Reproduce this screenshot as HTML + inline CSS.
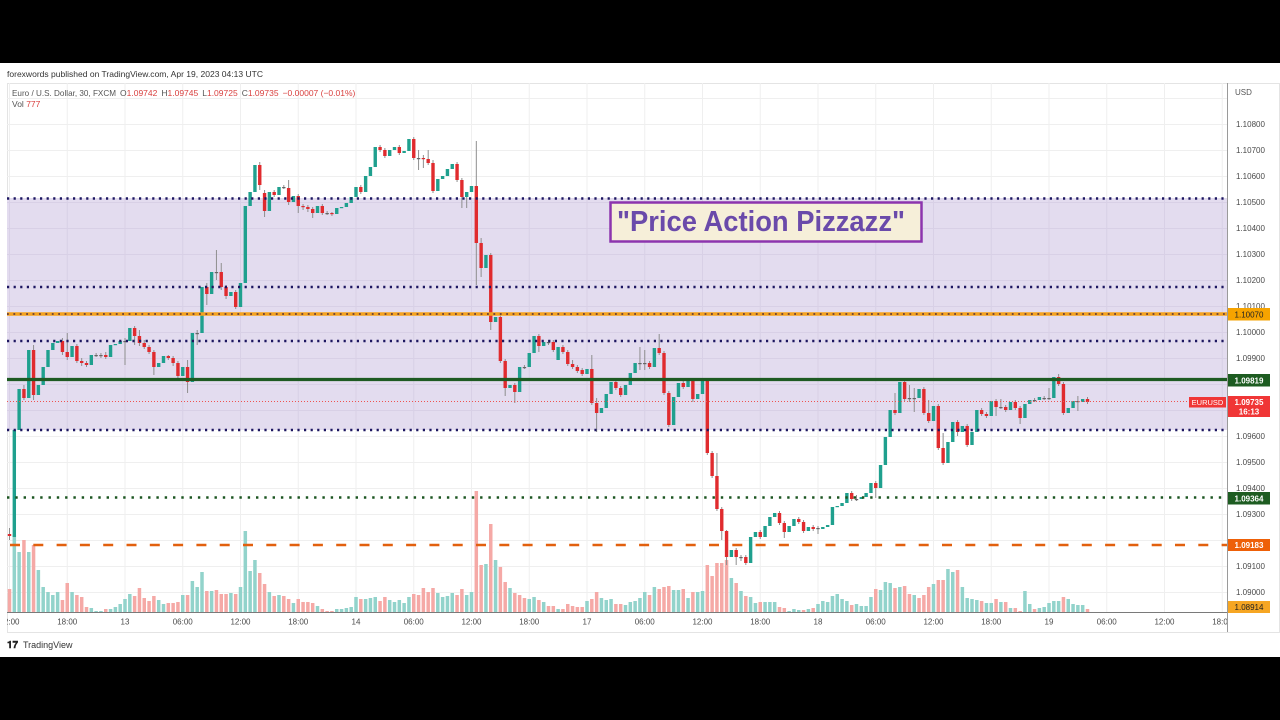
<!DOCTYPE html>
<html><head><meta charset="utf-8"><style>
html,body{margin:0;padding:0;background:#000;}
svg{display:block;}
text{font-family:"Liberation Sans",sans-serif;}
</style></head><body>
<svg id="s" width="1280" height="720" viewBox="0 0 1280 720" xmlns="http://www.w3.org/2000/svg">
<defs>
<clipPath id="plot"><rect x="7" y="83" width="1220" height="529"/></clipPath>
<clipPath id="taxis"><rect x="7" y="612" width="1220" height="20"/></clipPath>
</defs>
<rect x="0" y="0" width="1280" height="720" fill="#000"/>
<rect x="0" y="63" width="1280" height="594" fill="#fff"/>
<text x="7" y="77" font-size="8.5" fill="#333" textLength="256" lengthAdjust="spacingAndGlyphs">forexwords published on TradingView.com, Apr 19, 2023 04:13 UTC</text>
<rect x="7.5" y="83.5" width="1272" height="549" fill="#fff" stroke="#e4e4e4"/>
<g id="grid" stroke="#efefef" stroke-width="1"></g>
<rect x="7" y="198" width="1220" height="232" fill="#e3dcef"/>
<g id="grid2" stroke="#d8d0e6" stroke-width="1"></g>
<g id="vol" clip-path="url(#plot)"></g>
<g id="cdl" clip-path="url(#plot)"></g>
<g clip-path="url(#plot)">
<line x1="7" y1="401.5" x2="1227" y2="401.5" stroke="#ef5350" stroke-width="1" stroke-dasharray="1 2"/>
<line x1="7" y1="198.5" x2="1227" y2="198.5" stroke="#1c1660" stroke-width="2.4" stroke-dasharray="2.2 4.4"/>
<line x1="7" y1="287" x2="1227" y2="287" stroke="#1c1660" stroke-width="2.4" stroke-dasharray="2.2 4.4"/>
<line x1="7" y1="341" x2="1227" y2="341" stroke="#1c1660" stroke-width="2.4" stroke-dasharray="2.2 4.4"/>
<line x1="7" y1="430" x2="1227" y2="430" stroke="#1c1660" stroke-width="2.4" stroke-dasharray="2.2 4.4"/>
<line x1="7" y1="314" x2="1227" y2="314" stroke="#f5a21e" stroke-width="3.5"/>
<line x1="7" y1="314" x2="1227" y2="314" stroke="#4a2a40" stroke-width="1.6" stroke-dasharray="1.8 4.6"/>
<line x1="7" y1="379.5" x2="1227" y2="379.5" stroke="#1e5a22" stroke-width="3.2"/>
<line x1="7" y1="497.5" x2="1227" y2="497.5" stroke="#1b5520" stroke-width="2.6" stroke-dasharray="2.4 5.9"/>
<line x1="10" y1="545" x2="1227" y2="545" stroke="#e2600e" stroke-width="2.5" stroke-dasharray="10 13.3"/>
</g>
<!-- title box -->
<rect x="610.5" y="202.5" width="311" height="39" fill="#f6efd9" stroke="#8c34ae" stroke-width="2.5"/>
<text x="617" y="231" font-size="29" font-weight="bold" fill="#6a4aaa" textLength="288" lengthAdjust="spacingAndGlyphs">"Price Action Pizzazz"</text>
<!-- legend -->
<text y="96" font-size="8.5" fill="#555"><tspan x="12" textLength="104" lengthAdjust="spacingAndGlyphs">Euro / U.S. Dollar, 30, FXCM</tspan><tspan x="120">O</tspan><tspan fill="#d9403f">1.09742</tspan><tspan dx="4">H</tspan><tspan fill="#d9403f">1.09745</tspan><tspan dx="4">L</tspan><tspan fill="#d9403f">1.09725</tspan><tspan dx="4">C</tspan><tspan fill="#d9403f">1.09735</tspan><tspan dx="4" fill="#d9403f">−0.00007 (−0.01%)</tspan></text>
<text x="12" y="107" font-size="8.5" fill="#555">Vol <tspan fill="#d9403f">777</tspan></text>
<!-- axes -->
<line x1="1227.5" y1="83" x2="1227.5" y2="632" stroke="#9a9a9a" stroke-width="1"/>
<line x1="7" y1="612.5" x2="1227" y2="612.5" stroke="#7a7a7a" stroke-width="1"/>
<g id="paxis" font-size="8" fill="#4a4a4a"></g>
<g id="taxisg" font-size="8" fill="#4a4a4a" clip-path="url(#taxis)"></g>
<text x="1235" y="95" font-size="8" fill="#555">USD</text>
<!-- tags -->
<rect x="1228" y="308" width="42" height="12.5" fill="#f6a300"/>
<text x="1249" y="317.5" font-size="8" fill="#222" text-anchor="middle">1.10070</text>
<rect x="1228" y="374" width="42" height="12.5" fill="#1d5c21"/>
<text x="1249" y="383.5" font-size="8" font-weight="bold" fill="#fff" text-anchor="middle">1.09819</text>
<rect x="1228" y="396" width="42" height="21" fill="#f03636"/>
<text x="1249" y="405" font-size="8" font-weight="bold" fill="#fff" text-anchor="middle">1.09735</text>
<text x="1249" y="414.5" font-size="8" font-weight="bold" fill="#fff" text-anchor="middle">16:13</text>
<rect x="1189" y="397" width="37" height="10.5" fill="#f03636"/>
<text x="1207.5" y="405" font-size="7.5" fill="#fff" text-anchor="middle">EURUSD</text>
<rect x="1228" y="492" width="42" height="12.5" fill="#1d5c21"/>
<text x="1249" y="501.5" font-size="8" font-weight="bold" fill="#fff" text-anchor="middle">1.09364</text>
<rect x="1228" y="539" width="42" height="12" fill="#ee6008"/>
<text x="1249" y="548.2" font-size="8" font-weight="bold" fill="#fff" text-anchor="middle">1.09183</text>
<rect x="1228" y="601" width="42" height="12" fill="#f6a623"/>
<text x="1249" y="610.2" font-size="8" fill="#222" text-anchor="middle">1.08914</text>
<!-- logo -->
<text x="7" y="648" font-size="10" font-weight="bold" fill="#222">𝟏𝟕</text>
<text x="23" y="648" font-size="9" fill="#333">TradingView</text>
</svg>
<script>
(function(){
var NS="http://www.w3.org/2000/svg";
function el(p,t,a,txt){var e=document.createElementNS(NS,t);for(var k in a)e.setAttribute(k,a[k]);if(txt!=null)e.textContent=txt;p.appendChild(e);return e;}
var grid=document.getElementById('grid'),grid2=document.getElementById('grid2');
// horizontal grid
for(var k=-1;k<=18;k++){var y=124+26*k+0.5;if(y<84||y>611)continue;
 var g=(y>198&&y<430)?grid2:grid; el(g,'line',{x1:7,x2:1227,y1:y,y2:y});}
// vertical grid + time labels
var tl=["12:00","18:00","13","06:00","12:00","18:00","14","06:00","12:00","18:00","17","06:00","12:00","18:00","18","06:00","12:00","18:00","19","06:00","12:00","18:00"];
var ta=document.getElementById('taxisg');
for(var i=0;i<tl.length;i++){var x=9.5+57.75*i;
 if(x>7&&x<1227){el(grid,'line',{x1:x,x2:x,y1:83,y2:198});el(grid2,'line',{x1:x,x2:x,y1:198,y2:430});el(grid,'line',{x1:x,x2:x,y1:430,y2:612});}
 el(ta,'text',{x:x,y:624.5,'text-anchor':'middle'},tl[i]);}
// price axis labels
var pa=document.getElementById('paxis');
var hide={"1.09800":1,"1.09700":1,"1.09200":1};
for(var k=-1;k<=18;k++){var p=(1.108-0.001*k).toFixed(5);var y=124+26*k;if(y<100||y>600)continue;if(hide[p])continue;
 el(pa,'text',{x:1236,y:y+3},p);}
// volume
var V="9:589p,13:535t,18:552t,23:540p,28:552t,33:545p,38:570t,43:587t,48:592t,52:595t,57:592t,62:600p,67:583p,72:592t,77:595p,81:597p,86:607p,91:608t,96:611t,101:611t,105:609p,110:609t,115:607t,120:604t,125:599t,129:594t,134:596p,139:588p,144:598p,149:601p,153:596p,158:600t,163:604t,168:603p,173:603p,178:602p,183:595t,188:595p,192:581t,197:587t,202:572t,207:591p,212:591t,217:590p,221:594p,226:594p,231:593t,236:594p,241:587t,245:531t,250:571t,255:560t,260:573p,264:584p,269:592t,274:596p,278:595t,283:596p,288:599p,293:603t,298:599p,303:602p,307:602p,312:603p,317:606t,322:609p,327:611p,332:611p,336:609t,341:609t,346:608t,351:607t,355:597t,360:599p,365:599t,370:598t,375:597t,380:601p,385:597p,390:600t,395:602t,399:600t,403:603t,408:597t,413:594p,418:595p,423:588p,428:592p,433:588p,438:593t,443:597t,448:596t,452:593t,457:595p,462:589p,467:595t,472:592t,476:491p,481:565p,486:564t,491:524p,496:560t,500:567p,505:582p,510:588t,515:593p,519:595p,524:598p,529:599t,534:597t,539:600p,543:602t,548:606p,553:606p,558:609t,563:609p,568:604p,573:606p,578:607p,583:607p,587:601t,592:599p,597:592p,602:598t,607:600t,612:599t,617:604p,621:604p,626:605t,631:602t,636:601t,640:598t,645:592t,650:595p,655:587t,660:589p,664:587p,669:586p,674:590t,679:590t,684:589p,688:598t,693:592p,698:592t,703:591t,707:565p,712:576p,717:563p,722:563p,727:560p,732:578t,737:583p,741:591t,746:596p,751:597t,756:603t,761:602p,766:602t,771:602t,776:602t,780:607p,785:608p,790:611t,795:609t,799:610t,803:610p,808:609t,813:608p,818:604t,823:601t,828:602t,833:596t,838:594t,843:599t,848:601t,852:605p,857:604t,862:606t,867:606t,872:597t,876:589p,881:590t,886:582t,891:583t,896:588p,900:587t,905:586p,910:594p,915:595t,919:598p,924:595p,929:587p,934:584t,939:580p,943:580p,948:569t,953:572t,958:570p,963:587t,968:598t,973:599t,978:600t,983:601p,988:603t,992:603t,997:599p,1002:602t,1007:602p,1012:608t,1017:608p,1021:611p,1026:591t,1031:604t,1036:609p,1040:608t,1045:607t,1050:603t,1055:601t,1060:601t,1064:597p,1069:599t,1074:604t,1079:605t,1084:605t,1089:609p";
var vg=document.getElementById('vol');
function snap(x){return 9.5+4.8125*Math.round((x-9.5)/4.8125);}
V.split(',').forEach(function(s){var a=s.split(':');var x=snap(+a[0]);var top=parseFloat(a[1]);var c=a[1].slice(-1)=='p'?'#f5a9a6':'#92d3cb';
 el(vg,'rect',{x:x-1.75,y:top,width:3.5,height:612-top,fill:c});});
// candles [x,o,c,h,l]
var C=[[9,534,536,528,540],[13,537,430,537,425],[18,430,389,432,385],[23,389,398,385,400],[28,398,350,400,333],[33,350,395,345,400],[38,395,385,400,380],[43,385,367,388,360],[48,367,350,370,345],[52,350,343,352,338],[57,343,341,345,334],[62,341,352,338,355],[67,352,357,333,360],[72,357,346,360,342],[77,346,361,344,363],[81,361,363,358,366],[86,363,365,361,367],[91,365,355,366,353],[96,355,355,353,357],[101,355,355,353,358],[105,355,357,352,359],[110,357,345,358,343],[115,345,344,346,342],[120,344,341,345,339],[125,341,341,338,365],[129,341,328,342,319],[134,328,336,326,345],[139,336,343,330,346],[144,343,347,340,349],[149,347,352,345,354],[153,352,367,350,375],[158,367,363,369,360],[163,363,356,365,350],[168,356,358,355,360],[173,358,363,356,366],[178,363,376,361,378],[183,376,367,378,365],[188,367,382,360,393],[192,382,333,383,331],[197,333,333,330,345],[202,333,287,335,268],[207,287,294,283,305],[212,294,272,296,270],[217,272,272,250,280],[221,272,287,263,290],[226,287,296,285,299],[231,296,292,298,290],[236,292,307,290,309],[241,307,283,310,273],[245,283,206,285,205],[250,206,192,210,190],[255,192,165,194,156],[260,165,185,162,190],[264,193,211,190,217],[269,211,192,213,183],[274,192,195,190,197],[279,195,187,197,185],[284,187,187,185,189],[288,188,202,180,205],[293,202,196,204,193],[298,196,206,194,213],[303,206,207,204,210],[308,207,209,205,212],[312,209,213,207,218],[317,213,206,215,204],[322,206,213,204,215],[327,213,213,211,215],[332,213,214,212,216],[337,214,208,215,206],[342,208,207,209,205],[347,207,203,208,201],[352,203,197,205,195],[357,197,187,199,181],[361,187,192,185,194],[366,192,176,194,174],[371,176,167,178,165],[376,167,147,169,137],[381,147,150,145,152],[385,150,156,148,158],[390,156,150,158,148],[395,150,147,152,144],[400,147,153,145,155],[404,153,151,155,149],[409,151,139,153,137],[414,139,158,137,160],[419,158,158,150,170],[423,158,159,155,168],[428,159,163,150,165],[433,163,191,160,193],[438,191,179,193,175],[443,179,176,181,170],[448,176,169,178,165],[452,169,164,171,160],[457,164,180,162,182],[462,180,197,178,208],[467,197,192,199,208],[472,192,186,194,175],[477,186,243,141,285],[482,243,268,238,277],[487,268,255,280,253],[491,255,322,253,330],[496,322,317,325,310],[501,317,361,315,363],[506,361,388,359,396],[511,388,385,390,383],[516,385,392,383,403],[520,392,367,394,365],[524,367,367,365,369],[529,367,353,369,351],[534,353,336,355,334],[539,336,346,334,352],[544,346,342,348,340],[548,342,342,340,345],[553,342,350,340,352],[558,360,347,362,345],[563,347,352,345,354],[568,352,364,350,366],[573,364,367,360,369],[578,367,371,365,373],[583,370,374,368,376],[587,374,369,376,367],[592,369,403,355,405],[597,403,413,398,432],[602,413,408,415,405],[607,408,394,410,392],[612,394,382,396,380],[616,382,388,380,390],[621,388,395,386,397],[626,395,385,397,383],[631,385,373,387,371],[635,373,363,375,361],[640,363,363,347,370],[645,363,363,350,370],[650,363,367,361,369],[655,367,348,369,346],[659,348,353,334,355],[664,353,393,351,395],[669,393,425,391,427],[674,425,397,427,395],[679,397,383,399,373],[683,383,387,381,389],[688,387,381,389,372],[693,381,399,379,402],[698,399,394,405,392],[703,394,381,396,372],[708,381,453,379,455],[713,453,476,451,478],[718,476,509,453,511],[723,509,531,507,540],[727,531,557,530,565],[732,557,550,559,540],[737,550,557,548,565],[742,557,557,555,561],[747,557,563,555,565],[751,563,537,565,535],[756,537,532,539,530],[761,532,537,530,539],[766,537,526,539,524],[771,526,517,528,515],[775,517,513,519,511],[780,513,523,511,525],[785,523,532,521,538],[790,532,526,534,524],[795,526,519,528,517],[800,519,522,517,524],[804,522,531,520,533],[809,531,527,533,525],[814,527,529,525,531],[819,528,528,526,534],[823,529,527,531,520],[828,527,525,529,517],[833,525,507,527,505],[838,507,506,509,497],[843,506,503,508,500],[848,503,493,505,491],[852,493,499,491,501],[857,499,499,495,501],[862,499,497,501,490],[867,497,493,499,488],[872,493,483,495,481],[877,483,488,481,498],[882,488,465,490,463],[886,465,437,467,435],[891,437,410,439,408],[896,410,413,393,415],[901,413,382,415,378],[905,382,399,378,401],[910,398,398,385,402],[915,398,398,388,412],[920,398,389,400,385],[925,389,413,387,415],[930,413,421,400,423],[934,421,406,423,389],[939,406,448,404,450],[944,448,463,433,465],[949,463,442,480,440],[954,442,422,444,408],[959,422,432,420,436],[963,432,426,434,424],[968,426,445,424,447],[973,445,432,451,430],[978,432,410,434,408],[983,410,414,408,416],[987,414,416,412,418],[992,416,401,418,399],[997,401,407,399,416],[1002,407,407,399,409],[1007,407,410,405,412],[1012,410,402,412,400],[1017,402,408,400,410],[1022,408,418,406,424],[1027,418,404,420,402],[1031,404,400,406,398],[1036,400,400,398,402],[1041,400,397,402,394],[1046,398,398,396,400],[1050,398,398,388,400],[1055,398,377,400,375],[1060,377,384,374,386],[1065,384,413,382,415],[1069,413,408,423,406],[1074,408,401,410,399],[1079,401,401,396,411],[1084,402,399,404,397],[1089,399,402,397,404]];
var cg=document.getElementById('cdl');
C.forEach(function(d){var x=snap(d[0]);var o=d[1],c=d[2];var hi=Math.min(d[3],o,c),lo=Math.max(d[4],o,c);
 var up=c<o, col=(o==c)?'#666':(up?'#1fa08e':'#e02b2e');
 el(cg,'line',{x1:x,x2:x,y1:hi,y2:lo,stroke:'#8e8e8e','stroke-width':1});
 var t=Math.min(o,c),h=Math.max(Math.abs(o-c),1.2);
 el(cg,'rect',{x:x-1.7,y:t,width:3.4,height:h,fill:col});});
})();
</script>
</body></html>
